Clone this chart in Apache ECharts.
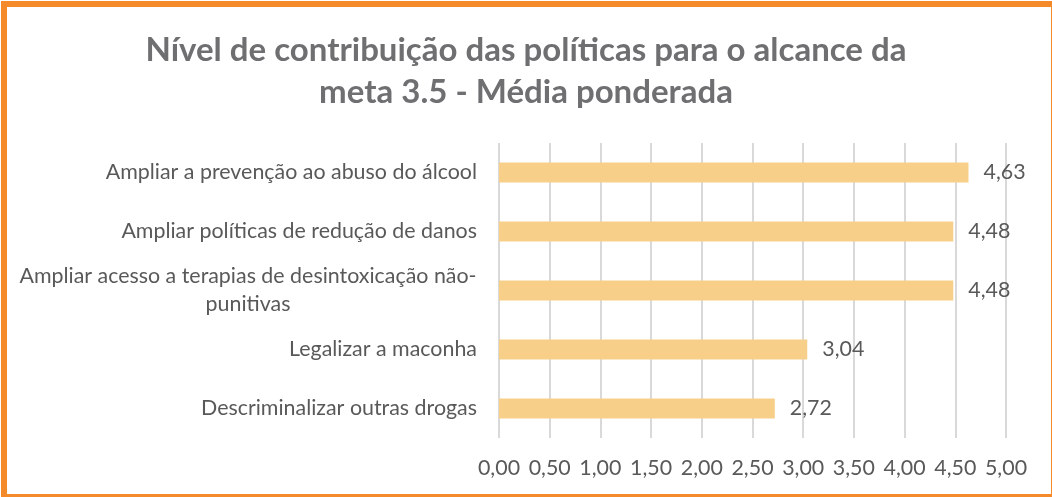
<!DOCTYPE html>
<html>
<head>
<meta charset="utf-8">
<script src="https://cdn.jsdelivr.net/npm/echarts@6/dist/echarts.min.js"></script>
<style>
  html, body { margin: 0; padding: 0; background: #fff; }
  #chart { width: 1052px; height: 497px; }
</style>
</head>
<body>
<div id="chart"></div>
<script>
// Policies, listed bottom to top as the category axis draws them
const categories = [
  'Descriminalizar outras drogas',
  'Legalizar a maconha',
  'Ampliar acesso a terapias de desintoxicação não-\npunitivas',
  'Ampliar políticas de redução de danos',
  'Ampliar a prevenção ao abuso do álcool'
];
// Weighted average of the contribution level
const values = [2.72, 3.04, 4.48, 4.48, 4.63];
// Axis scale
const axisMin = 0;
const axisMax = 5;
const axisStep = 0.5;

const fmt = v => v.toFixed(2).replace('.', ',');
const textGray = '#595959';
const font = 'Lato, "Open Sans", sans-serif';
const labelSize = 21.4;

// Width of the widest line of a wrapped label, so its lines can be centred on each other
const ctx = document.createElement('canvas').getContext('2d');
ctx.font = labelSize + 'px ' + font;
const wrapWidth = Math.max(...categories.filter(c => c.includes('\n'))
  .flatMap(c => c.split('\n')).map(s => Math.ceil(ctx.measureText(s).width)), 0);

const chart = echarts.init(document.getElementById('chart'), null, { renderer: 'canvas' });
chart.setOption({
  backgroundColor: '#ffffff',
  animation: false,
  title: {
    text: 'Nível de contribuição das políticas para o alcance da\nmeta 3.5 - Média ponderada',
    left: 'center',
    top: 24,
    textStyle: {
      fontFamily: font,
      fontSize: 33,
      fontWeight: 'bold',
      color: '#6f6f72',
      lineHeight: 42,
      align: 'center'
    }
  },
  grid: { left: 499, right: 46, top: 143, bottom: 59, containLabel: false },
  xAxis: {
    type: 'value',
    min: axisMin,
    max: axisMax,
    interval: axisStep,
    axisLine: { show: false },
    axisTick: { show: false },
    splitLine: { show: true, lineStyle: { color: '#d9d9d9', width: 2 } },
    axisLabel: {
      margin: 20,
      color: textGray,
      fontFamily: font,
      fontSize: labelSize,
      formatter: v => fmt(v)
    }
  },
  yAxis: {
    type: 'category',
    data: categories,
    axisLine: { show: false },
    axisTick: { show: false },
    axisLabel: {
      margin: 22,
      color: textGray,
      fontFamily: font,
      fontSize: labelSize,
      lineHeight: 28,
      formatter: v => v.includes('\n')
        ? v.split('\n').map(s => '{c|' + s + '}').join('\n')
        : v,
      rich: {
        c: { width: wrapWidth, align: 'center', color: textGray, fontFamily: font, fontSize: labelSize, lineHeight: 28 }
      }
    }
  },
  series: [{
    type: 'bar',
    data: values,
    barWidth: 20,
    itemStyle: { color: '#f8cf88' },
    label: {
      show: true,
      position: 'right',
      distance: 15,
      color: textGray,
      fontFamily: font,
      fontSize: labelSize,
      formatter: p => fmt(p.value)
    }
  }],
  graphic: [{
    type: 'rect',
    silent: true,
    z: 100,
    shape: { x: 4, y: 4, width: 1050, height: 493 },
    style: { fill: 'none', stroke: '#f58a2a', lineWidth: 6 }
  }]
});
</script>
</body>
</html>
